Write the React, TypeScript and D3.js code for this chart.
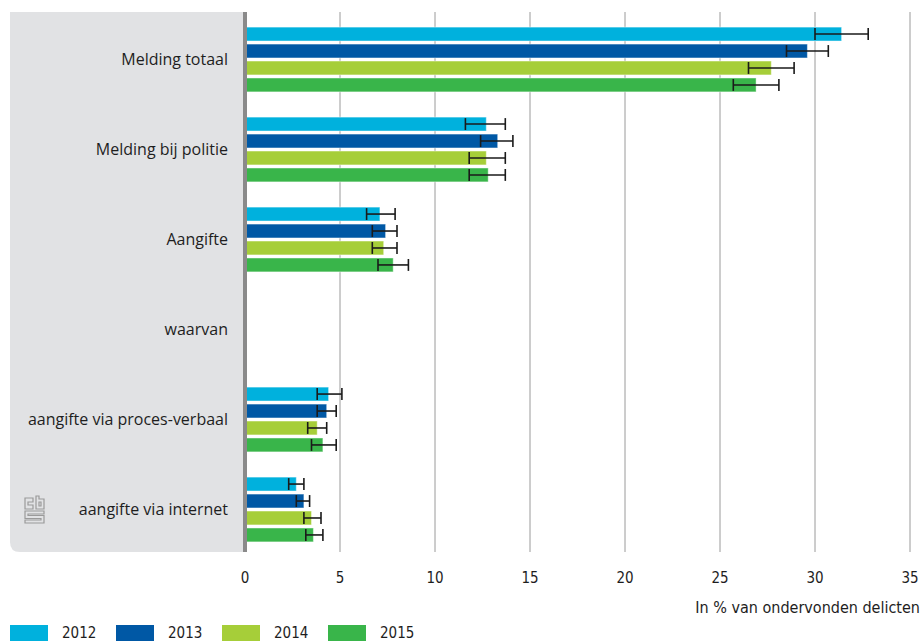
import React from 'react';
import * as d3 from 'd3';

// categories top to bottom ("waarvan" is only a sub heading, no bars)
const categories = [
  'Melding totaal',
  'Melding bij politie',
  'Aangifte',
  'waarvan',
  'aangifte via proces-verbaal',
  'aangifte via internet',
];
const years = ['2012', '2013', '2014', '2015'];
const yearColors = ['#00b1dd', '#0058a5', '#a6ce39', '#39b54a'];

// values per category, per year (null = no bar)
const v2012 = [31.4, 12.7, 7.1, null, 4.4, 2.7];
const v2013 = [29.6, 13.3, 7.4, null, 4.3, 3.1];
const v2014 = [27.7, 12.7, 7.3, null, 3.8, 3.5];
const v2015 = [26.9, 12.8, 7.8, null, 4.1, 3.6];
// lower / upper bound of the error bars
const lo2012 = [30.0, 11.6, 6.4, null, 3.8, 2.3];
const hi2012 = [32.8, 13.7, 7.9, null, 5.1, 3.1];
const lo2013 = [28.5, 12.4, 6.7, null, 3.8, 2.7];
const hi2013 = [30.7, 14.1, 8.0, null, 4.8, 3.4];
const lo2014 = [26.5, 11.8, 6.7, null, 3.3, 3.1];
const hi2014 = [28.9, 13.7, 8.0, null, 4.3, 4.0];
const lo2015 = [25.7, 11.8, 7.0, null, 3.5, 3.2];
const hi2015 = [28.1, 13.7, 8.6, null, 4.8, 4.1];
const xTicks = [0, 5, 10, 15, 20, 25, 30, 35];

const series = [v2012, v2013, v2014, v2015];
const lows = [lo2012, lo2013, lo2014, lo2015];
const highs = [hi2012, hi2013, hi2014, hi2015];

const LABEL_FONT = '"Open Sans", "Noto Sans", sans-serif';
const NARROW_FONT = '"DejaVu Sans Condensed", "Liberation Sans Narrow", sans-serif';

export default function App() {
  const width = 924;
  const height = 642;
  const top = 12;
  const bottom = 552;

  const x = d3.scaleLinear().domain([0, 35]).range([245, 910]);
  const y = d3.scaleBand().domain(categories).range([14.5, 554.5])
    .paddingInner(0.28).paddingOuter(0.14);
  const yy = d3.scaleBand().domain(years).range([0, y.bandwidth()]).paddingInner(0.18);

  const bars: any[] = [];
  categories.forEach((c, ci) => {
    years.forEach((yr, yi) => {
      const val = series[yi][ci];
      if (val == null) return;
      bars.push({ c, yr, yi, val, lo: lows[yi][ci], hi: highs[yi][ci] });
    });
  });

  const bh = yy.bandwidth();
  const panelPath = `M10,${top} H245 V${bottom} H20 Q10,${bottom} 10,${bottom - 10} Z`;

  return (
    <svg width={width} height={height} style={{ position: 'absolute', left: 0, top: 0 }}>
      <path d={panelPath} fill="#e1e2e4" />
      {xTicks.slice(1).map(t => (
        <line key={t} x1={x(t)} x2={x(t)} y1={top} y2={bottom} stroke="#9a9a9a" strokeWidth={1} />
      ))}
      {bars.map(b => {
        const y0 = (y(b.c) as number) + (yy(b.yr) as number);
        return (
          <g key={b.c + b.yr}>
            <rect x={x(0)} y={y0} width={x(b.val) - x(0)} height={bh}
              fill={yearColors[b.yi]} stroke="#ffffff" strokeOpacity={0.45} strokeWidth={1} />
            <g stroke="#1a1a1a" strokeWidth={1.6}>
              <line x1={x(b.lo)} x2={x(b.hi)} y1={y0 + bh / 2} y2={y0 + bh / 2} />
              <line x1={x(b.lo)} x2={x(b.lo)} y1={y0 + 1} y2={y0 + bh - 1} />
              <line x1={x(b.hi)} x2={x(b.hi)} y1={y0 + 1} y2={y0 + bh - 1} />
            </g>
          </g>
        );
      })}
      <line x1={x(0)} x2={x(0)} y1={top} y2={bottom} stroke="#8a8a8a" strokeWidth={4} />
      {categories.map(c => (
        <text key={c} x={228} y={(y(c) as number) + y.bandwidth() / 2} dy="0.35em"
          textAnchor="end" fontSize={16} fontFamily={LABEL_FONT} fill="#1e1e1e">{c}</text>
      ))}
      <g fontFamily={NARROW_FONT} fontSize={15} fill="#1e1e1e">
        {xTicks.map(t => (
          <text key={t} x={x(t)} y={578} dy="0.35em" textAnchor="middle">{t}</text>
        ))}
        <text x={920} y={607} dy="0.35em" textAnchor="end" fontSize={16}>In % van ondervonden delicten</text>
        {years.map((yr, i) => (
          <g key={yr} transform={`translate(${10 + i * 106},625)`}>
            <rect x={0} y={0} width={38} height={16} fill={yearColors[i]} />
            <text x={52} y={8} dy="0.35em">{yr}</text>
          </g>
        ))}
      </g>
      {/* cbs logo */}
      <g fill="none" stroke="#9a9a9a" strokeWidth={1.2}>
        <path d="M25,498 H33 V502 H28 V505 H33 V509 H25 Z" />
        <path d="M36,496 H39 V499 H44 V509 H36 Z M39,502 V506 H41 V502 Z" />
        <path d="M25,511 H44 V514 H28 V515.5 H44 V523 H25 V520 H41 V518.5 H25 Z" />
      </g>
    </svg>
  );
}
